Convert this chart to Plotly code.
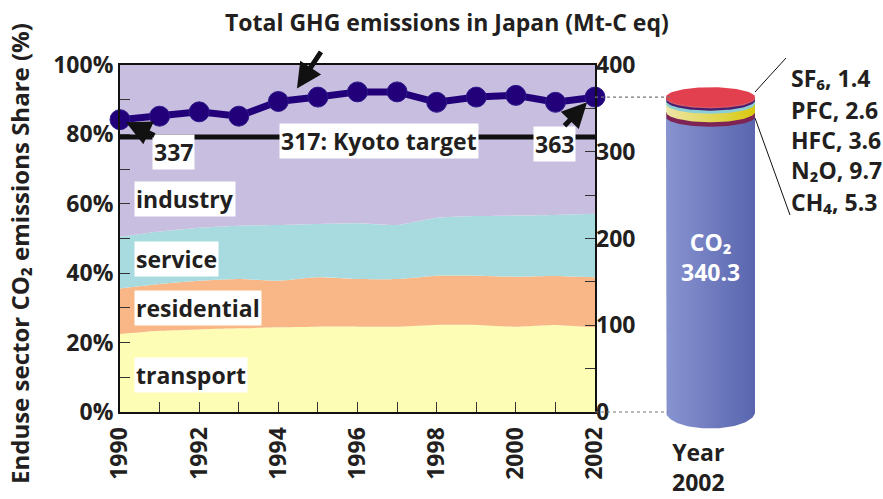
import numpy as np
import plotly.graph_objects as go

# ---------------- data ----------------
years = list(range(1990, 2003))
sector_names = ["transport", "residential", "service", "industry"]
transport = [22.5, 23.4, 23.8, 24.1, 24.4, 24.6, 24.6, 24.6, 25.1, 25.1, 24.6, 25.1, 24.4]
residential = [13.1, 13.5, 14.0, 14.2, 13.4, 14.2, 13.7, 13.7, 14.2, 14.2, 14.4, 14.1, 14.4]
service = [14.9, 15.1, 15.3, 15.4, 16.1, 15.4, 16.1, 15.6, 16.7, 17.2, 17.6, 17.6, 18.3]
industry = [49.5, 48.0, 46.9, 46.3, 46.1, 45.8, 45.6, 46.1, 44.0, 43.5, 43.4, 43.2, 42.9]
ghg_total = [337, 341, 346, 341, 358, 363, 369, 369, 357, 363, 365, 357, 363]
kyoto_target = 317
gas_names = ["CO₂", "CH₄", "N₂O", "HFC", "PFC", "SF₆"]
gas_values_2002 = [340.3, 5.3, 9.7, 3.6, 2.6, 1.4]
left_tickvals = [0, 20, 40, 60, 80, 100]
left_ticktext = ["0%", "20%", "40%", "60%", "80%", "100%"]
right_tickvals = [0, 100, 200, 300, 400]
x_tickvals = [1990, 1992, 1994, 1996, 1998, 2000, 2002]

# ---------------- style ----------------
FONT = "Open Sans"
TXT = "#231F20"
FS = 23
sector_colors = ["#FEFDB6", "#F9B787", "#A8DBE0", "#C8BEE0"]
gas_colors = [("#8894D0", "#5965AE"), ("#7E2455", "#7E2455"), ("#EDE6A6", "#D8C90E"),
              ("#8CCFD5", "#8CCFD5"), ("#4B1F6F", "#4B1F6F"), ("#D95C6A", "#D95C6A")]
top_color = "#E2404F"

W, H = 883, 499
ML, MR, MT, MB = 120, 20, 65, 50
PW, PH = W - ML - MR, H - MT - MB


def PX(x):
    return (x - ML) / PW


def PY(y):
    return (H - MB - y) / PH


plot_left, plot_right, plot_top, plot_bottom = 120, 595, 65, 412
ydom0 = PY(plot_bottom)
px_per_unit = (plot_bottom - plot_top) / 400.0
y3_min = -((H - MB) - plot_bottom) / px_per_unit
cyl_left, cyl_right = 666, 755
cw = cyl_right - cyl_left
x3_dom = [PX(cyl_left - 0.1 * cw), PX(cyl_right + 0.1 * cw)]

fig = go.Figure()

# stacked area of sector shares
series = [transport, residential, service, industry]
for name, vals, col in zip(sector_names, series, sector_colors):
    fig.add_trace(go.Scatter(x=years, y=vals, name=name, stackgroup="s",
                             mode="lines", line=dict(width=0, shape="spline", smoothing=0.5),
                             fillcolor=col, hoverinfo="skip", showlegend=False))

# Kyoto target line
fig.add_trace(go.Scatter(x=[years[0], years[-1]], y=[kyoto_target, kyoto_target], yaxis="y2",
                         mode="lines", line=dict(color="#111111", width=5), showlegend=False,
                         hoverinfo="skip"))
# total GHG line
fig.add_trace(go.Scatter(x=years, y=ghg_total, yaxis="y2", mode="lines+markers",
                         line=dict(color="#22007A", width=7),
                         marker=dict(size=20, color="#22007A", line=dict(color="#2E1A8A", width=1)),
                         cliponaxis=False, showlegend=False, hoverinfo="skip"))

# cylinder (2002 breakdown)
ry = 11.5
ry_bot = 19.0
t = np.linspace(np.pi, 2 * np.pi, 60)
base = 0.0
for i, (v, (c0, c1)) in enumerate(zip(gas_values_2002, gas_colors)):
    top = base + v
    r = ry_bot if i == 0 else ry
    xs = [0, 0] + list(0.5 + 0.5 * np.cos(t)) + [1, 1]
    ys = [top, base] + list(base + r * np.sin(t)) + [base, top]
    fig.add_trace(go.Scatter(x=xs, y=ys, xaxis="x3", yaxis="y3", mode="lines", fill="toself",
                             line=dict(width=0),
                             fillgradient=dict(type="horizontal", colorscale=[[0, c0], [1, c1]]),
                             showlegend=False, hoverinfo="skip"))
    base = top
total_2002 = base
tt = np.linspace(0, 2 * np.pi, 100)
fig.add_trace(go.Scatter(x=0.5 + 0.5 * np.cos(tt), y=total_2002 + ry * np.sin(tt), xaxis="x3",
                         yaxis="y3", mode="lines", fill="toself", fillcolor=top_color,
                         line=dict(width=0), showlegend=False, hoverinfo="skip"))

tf = dict(family=FONT, size=FS, color=TXT, weight="bold")
tk = dict(ticks="inside", ticklen=10, tickcolor="#333", tickwidth=1.2)

fig.update_layout(
    width=W, height=H, margin=dict(l=ML, r=MR, t=MT, b=MB),
    paper_bgcolor="white", plot_bgcolor="white", showlegend=False,
    xaxis=dict(domain=[0, PX(plot_right)], range=[years[0], years[-1]], anchor="y",
               tickvals=x_tickvals, ticktext=[str(v) for v in x_tickvals], tickangle=-90,
               minor=dict(dtick=1, tick0=1990, **tk), **tk,
               showline=True, linecolor="#111", linewidth=2, mirror=True,
               showgrid=False, zeroline=False, tickfont=tf, automargin=False, ticklabelstandoff=4),
    yaxis=dict(domain=[ydom0, 1], range=[0, 100], tickvals=left_tickvals, ticktext=left_ticktext,
               minor=dict(dtick=10, **tk), **tk,
               showline=True, linecolor="#111", linewidth=2, mirror=True,
               showgrid=False, zeroline=False, tickfont=tf, automargin=False),
    yaxis2=dict(overlaying="y", side="right", anchor="x", range=[0, 400], tickvals=right_tickvals,
                minor=dict(dtick=50, **tk), **tk,
                showline=False, showgrid=False, zeroline=False, tickfont=tf, automargin=False),
    xaxis3=dict(domain=x3_dom, range=[-0.1, 1.1], anchor="y3", visible=False),
    yaxis3=dict(domain=[0, 1], range=[y3_min, 400], anchor="x3", visible=False),
)

ann = []
af = dict(family=FONT, size=FS, color=TXT, weight="bold")
P = dict(xref="paper", yref="paper", showarrow=False, xanchor="center", yanchor="middle")
ann.append(dict(P, text="Total GHG emissions in Japan (Mt-C eq)", x=PX(447), y=PY(22),
                font=dict(family=FONT, size=FS, color=TXT, weight="bold")))
ann.append(dict(P, text="Enduse sector CO₂ emissions Share (%)", x=PX(19), y=PY(254),
                textangle=-90, font=dict(family=FONT, size=24, color=TXT, weight="bold")))
# sector labels
label_y = {"transport": 375, "residential": 307.5, "service": 259, "industry": 199}
for nm in sector_names:
    ann.append(dict(P, text=nm, x=PX(134), y=PY(label_y[nm]), xanchor="left",
                    bgcolor="white", borderpad=1, font=af))
ann.append(dict(P, text=str(ghg_total[0]), x=PX(152), y=PY(151.5), xanchor="left",
                bgcolor="white", borderpad=1, font=af))
ann.append(dict(P, text=f"{kyoto_target}: Kyoto target", x=PX(279), y=PY(140.5), xanchor="left",
                bgcolor="white", borderpad=1, font=af))
ann.append(dict(P, text=str(ghg_total[-1]), x=PX(533), y=PY(144), xanchor="left",
                bgcolor="white", borderpad=1, font=af))
# arrows
arr = dict(showarrow=True, arrowhead=2, arrowsize=1, arrowwidth=5, arrowcolor="#111", text="",
           xref="x", yref="y2")
ann.append(dict(arr, x=1990.15, y=334, ax=30, ay=14))
ann.append(dict(arr, x=1994.47, y=373, ax=25, ay=-38))
ann.append(dict(arr, x=2001.8, y=357, ax=-24, ay=25))
# cylinder text
ann.append(dict(P, text=f"{gas_names[0]}<br>{gas_values_2002[0]}", x=PX(710), y=PY(257),
                font=dict(family=FONT, size=FS, color="white", weight="bold")))
label_ys = [78, 110, 140, 170, 202]
for nm, v, yy in zip(gas_names[::-1][:5], gas_values_2002[::-1][:5], label_ys):
    ann.append(dict(P, text=f"{nm}, {v}", x=PX(789), y=PY(yy), xanchor="left", font=af))
ann.append(dict(P, text=f"Year<br>{years[-1]}", x=PX(698), y=PY(467), font=af))
fig.update_layout(annotations=ann)

shapes = []
dash = dict(color="#777", width=1.2, dash="dot")
shapes.append(dict(type="line", xref="paper", yref="y3", x0=PX(plot_right), x1=PX(cyl_left + 5),
                   y0=total_2002, y1=total_2002, line=dash))
shapes.append(dict(type="line", xref="paper", yref="y3", x0=PX(plot_right), x1=PX(cyl_left + 2),
                   y0=0, y1=0, line=dash))
shapes.append(dict(type="line", xref="paper", yref="paper", x0=PX(755), y0=PY(92), x1=PX(786),
                   y1=PY(58), line=dict(color="#111", width=1)))
shapes.append(dict(type="line", xref="paper", yref="paper", x0=PX(755), y0=PY(118), x1=PX(790),
                   y1=PY(215), line=dict(color="#111", width=1)))
fig.update_layout(shapes=shapes)

fig.write_html("out.html", config={"displayModeBar": False},
               post_script="document.body.style.margin='0';")
